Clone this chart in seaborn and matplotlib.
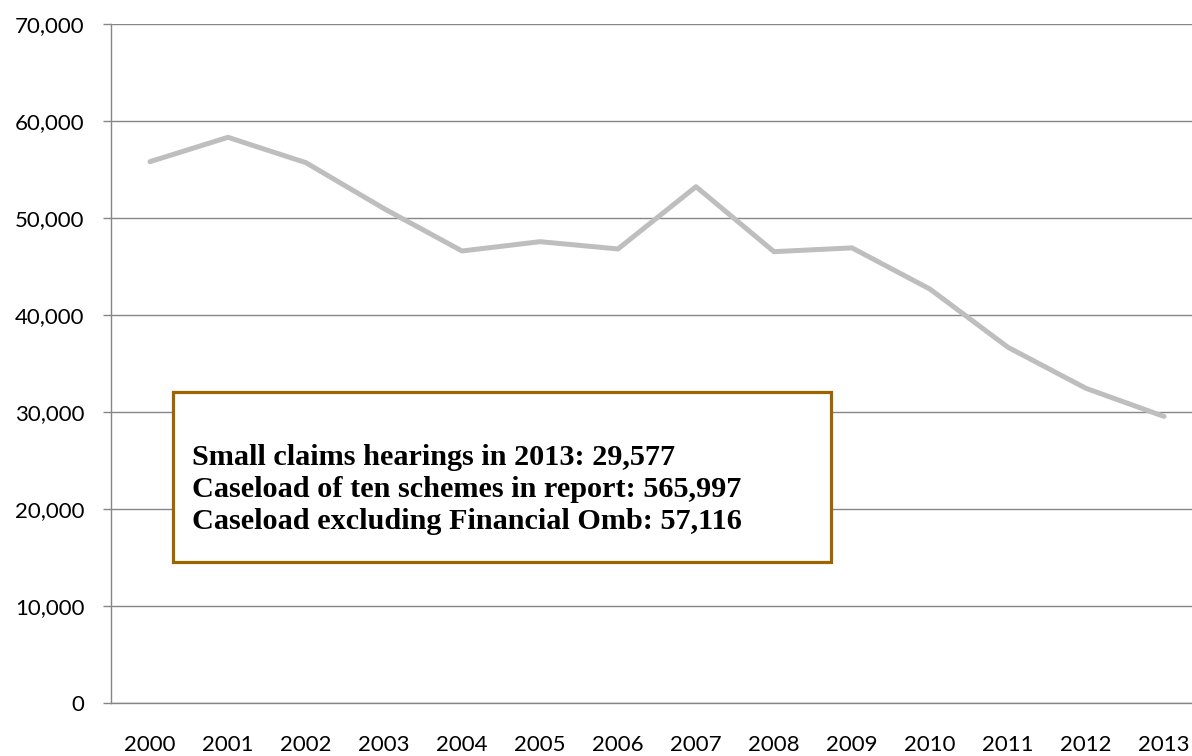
import numpy as np
import pandas as pd
import matplotlib
matplotlib.use("Agg")
import matplotlib.pyplot as plt
import seaborn as sns
from matplotlib.patches import Rectangle
from matplotlib.ticker import FuncFormatter, FixedLocator

# Dados
years = ["2000", "2001", "2002", "2003", "2004", "2005", "2006",
         "2007", "2008", "2009", "2010", "2011", "2012", "2013"]
hearings = [55840, 58350, 55730, 51000, 46630, 47590, 46840,
            53260, 46560, 46950, 42700, 36700, 32470, 29577]
box_lines = ["Small claims hearings in 2013: 29,577",
             "Caseload of ten schemes in report: 565,997",
             "Caseload excluding Financial Omb: 57,116"]

df = pd.DataFrame({"pos": np.arange(len(years)), "hearings": hearings})

sns.set_theme(style="white")
plt.rcParams["font.family"] = ["Lato", "DejaVu Sans"]

fig = plt.figure(figsize=(11.92, 7.56), dpi=100)
ax = fig.add_axes([111 / 1192, (756 - 703.3) / 756, 1092 / 1192, 679 / 756])

grid_col = "#868686"
sns.lineplot(data=df, x="pos", y="hearings", ax=ax, color="#bebebe",
             linewidth=3.6, zorder=3)

ax.set_xlim(-0.5, len(years) - 0.5)
ax.set_ylim(0, 70000)
ax.set_yticks(np.arange(0, 70001, 10000))
ax.yaxis.set_major_formatter(FuncFormatter(lambda v, p: f"{int(v):,}"))
ax.yaxis.grid(True, color=grid_col, linewidth=1.0)
ax.set_axisbelow(True)

ax.set_xticks(np.arange(len(years)))
ax.set_xticklabels(years)
ax.xaxis.set_minor_locator(FixedLocator(np.arange(-0.5, len(years), 1.0)))
ax.tick_params(axis="x", which="major", length=0, pad=23, labelsize=16, labelcolor="black")
ax.tick_params(axis="x", which="minor", length=5, width=1, color=grid_col, direction="out")
ax.tick_params(axis="y", length=6, width=1, color=grid_col, direction="out",
               pad=13, labelsize=16, left=True, labelcolor="black")

for s in ["top", "right"]:
    ax.spines[s].set_visible(False)
for s in ["left", "bottom"]:
    ax.spines[s].set_color(grid_col)
    ax.spines[s].set_linewidth(1.0)
ax.set_xlabel("")
ax.set_ylabel("")

# Caixa de texto
ax.add_patch(Rectangle((0.0568, 0.2081), 0.6025, 0.2504, transform=ax.transAxes,
                       facecolor="white", edgecolor="#9c6500", linewidth=2.3,
                       zorder=5, clip_on=False))
for i, line in enumerate(box_lines):
    ax.text(0.0742, 0.351 - i * 0.0471, line, transform=ax.transAxes,
            fontsize=21.8, fontweight="bold", family=["Liberation Serif"],
            color="black", va="baseline", ha="left", zorder=6)

fig.savefig("out.png", dpi=100)
